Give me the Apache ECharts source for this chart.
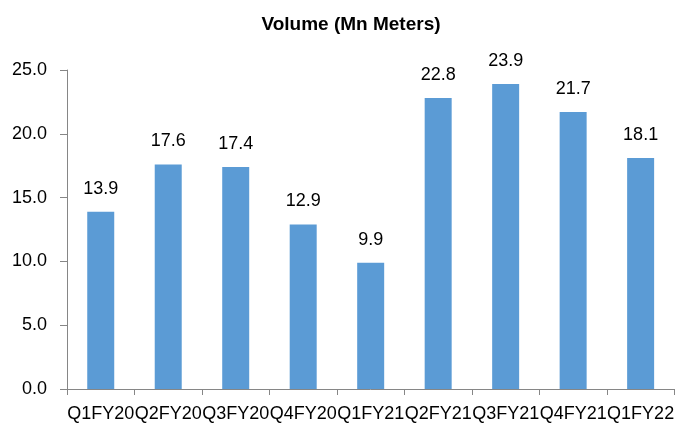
<!DOCTYPE html>
<html>
<head>
<meta charset="utf-8">
<script src="https://cdn.jsdelivr.net/npm/echarts@6/dist/echarts.min.js"></script>
<style>
  html, body { margin: 0; padding: 0; background: #fff; }
  #chart { width: 677px; height: 424px; }
</style>
</head>
<body>
<div id="chart"></div>
<script>
// Quarterly volumes in million meters
const quarters = ['Q1FY20', 'Q2FY20', 'Q3FY20', 'Q4FY20', 'Q1FY21', 'Q2FY21', 'Q3FY21', 'Q4FY21', 'Q1FY22'];
const volumes = [13.9, 17.6, 17.4, 12.9, 9.9, 22.8, 23.9, 21.7, 18.1];
const chartTitle = 'Volume (Mn Meters)';

const FONT = '"Liberation Sans", Arial, sans-serif';
const chart = echarts.init(document.getElementById('chart'), null, { renderer: 'canvas' });

chart.setOption({
  animation: false,
  backgroundColor: '#ffffff',
  title: {
    text: chartTitle,
    left: 346,
    top: 10,
    textAlign: 'center',
    textStyle: { fontFamily: FONT, fontWeight: 'bold', fontSize: 19, color: '#000' }
  },
  grid: { left: 67, right: 0, top: 70, bottom: 35, containLabel: false },
  xAxis: {
    type: 'category',
    data: quarters,
    axisLine: { lineStyle: { color: '#868686', width: 1 } },
    axisTick: { show: true, length: 6, alignWithLabel: false, lineStyle: { color: '#868686' } },
    axisLabel: { interval: 0, margin: 16, fontFamily: FONT, fontSize: 18, color: '#000' }
  },
  yAxis: {
    type: 'value',
    min: 0,
    max: 25,
    interval: 5,
    axisLine: { show: true, lineStyle: { color: '#868686', width: 1 } },
    axisTick: { show: true, length: 7, lineStyle: { color: '#868686' } },
    splitLine: { show: false },
    axisLabel: {
      margin: 20,
      fontFamily: FONT,
      fontSize: 18,
      color: '#000',
      formatter: v => v.toFixed(1)
    }
  },
  series: [{
    type: 'bar',
    data: volumes,
    barWidth: '40%',
    itemStyle: { color: '#5B9BD5' },
    label: {
      show: true,
      position: 'top',
      distance: 14,
      fontFamily: FONT,
      fontSize: 18,
      color: '#000',
      formatter: p => p.value.toFixed(1)
    }
  }]
});
</script>
</body>
</html>
